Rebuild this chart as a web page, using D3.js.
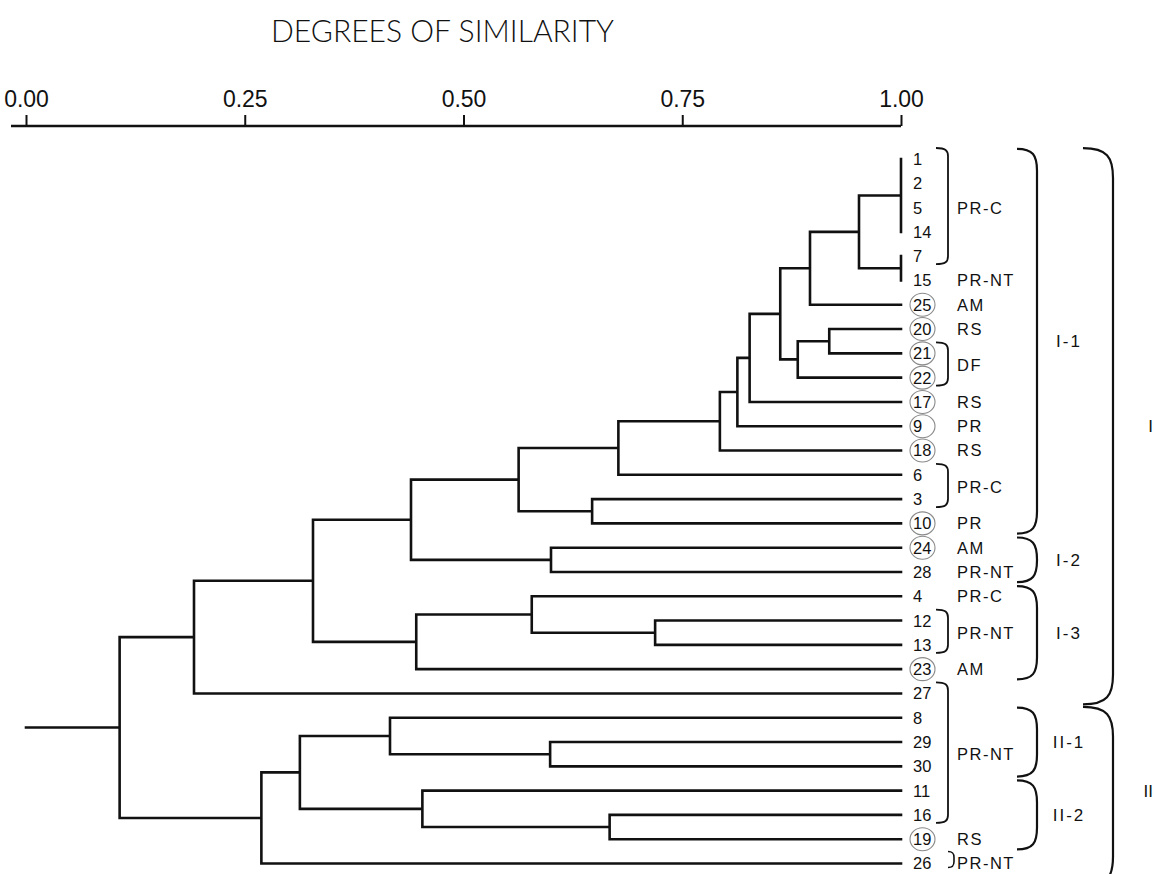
<!DOCTYPE html>
<html>
<head>
<meta charset="utf-8">
<script src="https://cdn.jsdelivr.net/npm/d3@7/dist/d3.min.js"></script>
<style>
  body { margin: 0; background: #fff; }
  svg { display: block; }
</style>
</head>
<body>
<div id="chart"></div>
<script>
// leaves, top to bottom
const leafIds = ['1', '2', '5', '14', '7', '15', '25', '20', '21', '22', '17', '9', '18', '6', '3',
  '10', '24', '28', '4', '12', '13', '23', '27', '8', '29', '30', '11', '16', '19', '26'];
const circledLeaves = ['25', '20', '21', '22', '17', '9', '18', '10', '24', '23', '19'];

// clusters in merge order, with the similarity at which they join
const clusterIds = ['c1', 'c2', 'c3', 'c4', 'c5', 'c6', 'c7', 'c8', 'c9', 'c10', 'c11', 'c12', 'c13', 'c14',
  'c15', 'c16', 'c17', 'c18', 'c19', 'c20', 'c21', 'c22', 'c23', 'c24', 'c25', 'c26', 'c27'];
const clusterChildren = [
  ['1', '2', '5', '14'], ['7', '15'], ['c1', 'c2'], ['c3', '25'], ['20', '21'], ['c5', '22'],
  ['c4', 'c6'], ['c7', '17'], ['c8', '9'], ['c9', '18'], ['c10', '6'], ['3', '10'], ['c11', 'c12'],
  ['24', '28'], ['c13', 'c14'], ['12', '13'], ['4', 'c16'], ['c17', '23'], ['c15', 'c18'],
  ['c19', '27'], ['29', '30'], ['8', 'c21'], ['16', '19'], ['11', 'c23'], ['c22', 'c24'],
  ['c25', '26'], ['c20', 'c26']
];
const clusterSimilarity = [1.00, 1.00, 0.952, 0.896, 0.918, 0.882, 0.862, 0.827, 0.813, 0.793, 0.677,
  0.647, 0.563, 0.600, 0.440, 0.719, 0.578, 0.446, 0.328, 0.192, 0.599, 0.416, 0.667, 0.453,
  0.313, 0.269, 0.107];

const axisTicks = [0, 0.25, 0.5, 0.75, 1];

// origin labels next to the leaf numbers
const originLabels = ['PR-C', 'PR-NT', 'AM', 'RS', 'DF', 'RS', 'PR', 'RS', 'PR-C', 'PR', 'AM', 'PR-NT',
  'PR-C', 'PR-NT', 'AM', 'PR-NT', 'RS', 'PR-NT'];
const originFirst = ['1', '15', '25', '20', '21', '17', '9', '18', '6', '10', '24', '28', '4', '12', '23', '27', '19', '26'];
const originLast = ['7', '15', '25', '20', '22', '17', '9', '18', '3', '10', '24', '28', '4', '13', '23', '16', '19', '26'];

// cluster groups
const groupNames = ['I-1', 'I-2', 'I-3', 'II-1', 'II-2'];
const groupFirst = ['1', '24', '4', '8', '11'];
const groupLast = ['10', '28', '23', '30', '19'];
const majorNames = ['I', 'II'];
const majorFirst = ['1', '8'];
const majorLast = ['27', '26'];

const width = 1155;
const height = 874;
const lineColor = '#111';
const labelFont = '"Liberation Sans", Arial, Helvetica, sans-serif';

const svg = d3.select('#chart')
  .append('svg')
  .attr('width', width)
  .attr('height', height);

const xScale = d3.scaleLinear().domain([0, 1]).range([26, 901]);
const yScale = d3.scalePoint().domain(leafIds).range([159, 863.5]);
const step = yScale.step();

// title
svg.append('text')
  .attr('x', 271)
  .attr('y', 42)
  .attr('textLength', 343)
  .attr('lengthAdjust', 'spacingAndGlyphs')
  .style('font-family', 'Lato, "Open Sans", sans-serif')
  .style('font-weight', 300)
  .style('font-size', '31px')
  .style('fill', lineColor)
  .text('DEGREES OF SIMILARITY');

// axis
const axis = svg.append('g')
  .attr('transform', 'translate(0,126)')
  .call(d3.axisTop(xScale)
    .tickValues(axisTicks)
    .tickFormat(d3.format('.2f'))
    .tickSize(11)
    .tickSizeOuter(0)
    .tickPadding(8));

axis.select('.domain')
  .attr('d', `M${xScale.range()[0] - 15},0H${xScale.range()[1]}`)
  .attr('stroke', lineColor)
  .attr('stroke-width', 2.4);
axis.selectAll('.tick line').attr('stroke', lineColor).attr('stroke-width', 2);
axis.selectAll('.tick text')
  .style('font-family', labelFont)
  .style('font-size', '23px')
  .style('fill', lineColor);

// tree layout
const nodes = {};
leafIds.forEach(id => { nodes[id] = {y: yScale(id), sim: 1}; });
clusterIds.forEach((id, i) => {
  const ys = clusterChildren[i].map(c => nodes[c].y);
  nodes[id] = {y: (d3.min(ys) + d3.max(ys)) / 2, sim: clusterSimilarity[i], children: clusterChildren[i]};
});

let treePath = '';
clusterIds.forEach(id => {
  const node = nodes[id];
  const x = xScale(node.sim);
  const ys = node.children.map(c => nodes[c].y);
  treePath += `M${x},${d3.min(ys)}V${d3.max(ys)}`;
  node.children.forEach(c => {
    if (nodes[c].sim > node.sim) treePath += `M${x},${nodes[c].y}H${xScale(nodes[c].sim)}`;
  });
});
const root = nodes[clusterIds[clusterIds.length - 1]];
treePath += `M${xScale(0)},${root.y}H${xScale(root.sim)}`;

svg.append('path')
  .attr('d', treePath)
  .attr('fill', 'none')
  .attr('stroke', lineColor)
  .attr('stroke-width', 2.6)
  .attr('stroke-linecap', 'square');

// leaf numbers
const leaves = svg.append('g');
leaves.selectAll('ellipse')
  .data(circledLeaves)
  .join('ellipse')
  .attr('cx', 922.5)
  .attr('cy', d => yScale(d))
  .attr('rx', 12.5)
  .attr('ry', 11.5)
  .attr('fill', 'none')
  .attr('stroke', '#8a8a8a')
  .attr('stroke-width', 1.1);

leaves.selectAll('text')
  .data(leafIds)
  .join('text')
  .attr('x', 913)
  .attr('y', d => yScale(d))
  .attr('dy', '0.36em')
  .style('font-family', labelFont)
  .style('font-size', '16.5px')
  .style('fill', lineColor)
  .text(d => d);

function bracket(x0, x1, top, bottom, curl) {
  return `M${x0},${top}C${x0 + (x1 - x0) * 0.8},${top} ${x1},${top + curl * 0.3} ${x1},${top + curl}` +
    `V${bottom - curl}C${x1},${bottom - curl * 0.3} ${x0 + (x1 - x0) * 0.8},${bottom} ${x0},${bottom}`;
}

function drawBracket(d, stroke) {
  svg.append('path')
    .attr('d', d)
    .attr('fill', 'none')
    .attr('stroke', lineColor)
    .attr('stroke-width', stroke);
}

function drawLabel(text, x, y, size, anchor, spacing) {
  svg.append('text')
    .attr('x', x)
    .attr('y', y)
    .attr('dy', '0.36em')
    .attr('text-anchor', anchor)
    .style('font-family', labelFont)
    .style('font-size', size)
    .style('letter-spacing', spacing)
    .style('fill', lineColor)
    .text(text);
}

// origin labels and their small brackets
originLabels.forEach((label, i) => {
  const y0 = yScale(originFirst[i]);
  const y1 = yScale(originLast[i]);
  if (originFirst[i] !== originLast[i]) {
    drawBracket(bracket(936, 948, y0 - 11, y1 + 8, 8), 1.8);
  } else if (i === originLabels.length - 1) {
    drawBracket(bracket(948, 954, y0 - 12, y1 + 4, 6), 1.6);
  }
  drawLabel(label, 957, (y0 + y1) / 2, '16.5px', 'start', '1.5px');
});

// sub-cluster brackets
groupNames.forEach((name, i) => {
  const y0 = yScale(groupFirst[i]) - step * 0.42;
  const y1 = yScale(groupLast[i]) + step * 0.42;
  drawBracket(bracket(1017, 1037, y0, y1, 22), 2.2);
  drawLabel(name, 1069, (y0 + y1) / 2, '17px', 'middle', '2px');
});

// main cluster brackets, labels pressed against the right edge
majorNames.forEach((name, i) => {
  const y0 = yScale(majorFirst[i]) - step * 0.45;
  const y1 = yScale(majorLast[i]) + step * 0.45;
  drawBracket(bracket(1083, 1113, y0, y1 + (i === 1 ? 12 : 0), 30), 2.2);
  drawLabel(name, width - 2, (yScale(majorFirst[i]) + yScale(majorLast[i])) / 2, '17px', 'end', '0px');
});
</script>
</body>
</html>
